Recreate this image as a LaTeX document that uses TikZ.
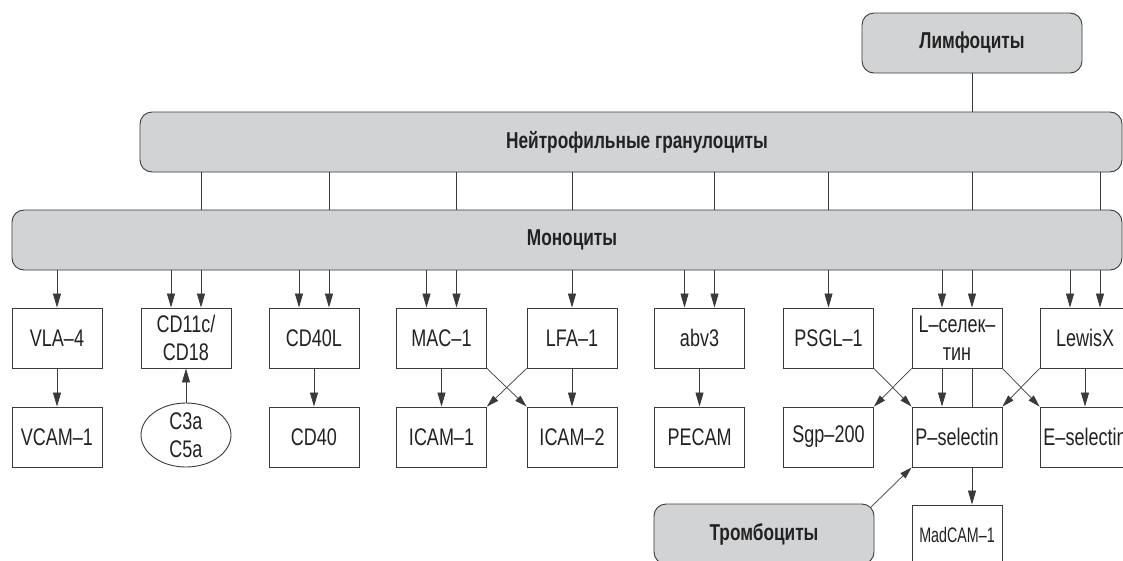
\documentclass[tikz,border=0pt]{standalone}
\usepackage{fontspec}
\setmainfont{Liberation Sans}[FakeStretch=0.75]
\newfontfamily\narrowfont{Liberation Sans}[FakeStretch=0.68]
\usetikzlibrary{arrows.meta,calc,shapes.geometric}
\definecolor{boxgray}{HTML}{D2D3D5}
\definecolor{edge}{HTML}{3A3A3A}
\definecolor{ink}{HTML}{222222}
\begin{document}
\begin{tikzpicture}[x=1pt,y=-1pt,
  cell/.style={draw=edge, line width=0.9pt, minimum width=90pt, minimum height=60pt, inner sep=0pt, align=center, text=ink, font=\fontsize{24}{28}\selectfont},
  group/.style={draw=edge, line width=0.9pt, fill=boxgray, rounded corners=12pt, minimum height=60pt, inner sep=0pt, text=ink, font=\fontsize{23}{27}\selectfont\bfseries},
  arr/.style={draw=edge, line width=0.8pt, -{Triangle[length=14pt,width=8pt]}},
  darr/.style={draw=edge, line width=0.7pt, -{Triangle[length=12pt,width=7pt]}},
  ln/.style={draw=edge, line width=0.8pt}]
\useasboundingbox (0,0) rectangle (1123,560);
\clip (0,0) rectangle (1123,560);
% group bars
\node[group, minimum width=220pt] (lym) at (972,43) {Лимфоциты};
\node[group, minimum width=982pt] (neu) at (631,142) {\hspace*{12pt}Нейтрофильные гранулоциты};
\node[group, minimum width=1110pt] (mono) at (567,240) {\hspace*{10pt}Моноциты};
\node[group, minimum width=220pt] (thr) at (764,534) {Тромбоциты};
% row 1
\node[cell] (vla)   at (57,338)    {VLA–4};
\node[cell] (cd11)  at (186,338)   {CD11c/\\CD18};
\node[cell] (cd40l) at (314,338)   {CD40L};
\node[cell] (mac)   at (441.5,338) {MAC–1};
\node[cell] (lfa)   at (572,338)   {LFA–1};
\node[cell] (abv)   at (699.5,338) {abv3};
\node[cell] (psgl)  at (828.5,338) {PSGL–1};
\node[cell] (lsel)  at (957,338)   {L–селек–\\тин};
\node[cell] (lewis) at (1085,338)  {LewisX};
% row 2
\node[cell] (vcam)  at (57,437)    {VCAM–1};
\node[cell, ellipse, minimum height=64pt] (c3) at (186,435) {C3a\\C5a};
\node[cell] (cd40)  at (314,437)   {CD40};
\node[cell] (icam1) at (441.5,437) {ICAM–1};
\node[cell] (icam2) at (572,437)   {ICAM–2};
\node[cell] (pecam) at (699.5,437) {PECAM};
\node[cell] (sgp)   at (828.5,437) {Sgp–200};
\node[cell] (psel)  at (957,437)   {P–selectin};
\node[cell] (esel)  at (1085,437)  {E–selectin};
\node[cell, font=\fontsize{21}{25}\narrowfont] (madcam) at (957,535) {MadCAM–1};
% vertical links between bars
\draw[ln] (lym.south) -- (neu.north -| lym.south);
\foreach \n/\dx in {cd11/15, cd40l/15, mac/15, lfa/0, abv/15, psgl/0, lsel/15, lewis/15}
  \draw[ln] ([xshift=\dx pt]\n.north |- neu.south) -- ([xshift=\dx pt]\n.north |- mono.north);
% arrows from monocytes
\foreach \n/\dx in {vla/0, cd11/-15, cd11/15, cd40l/-15, cd40l/15, mac/-15, mac/15, lfa/0, abv/-15, abv/15, psgl/0, lsel/-15, lsel/15, lewis/-15, lewis/15}
  \draw[arr] ([xshift=\dx pt]\n.north |- mono.south) -- ([xshift=\dx pt]\n.north);
% row links
\draw[arr] (vla) -- (vcam);
\draw[arr] (c3) -- (cd11);
\draw[arr] (cd40l) -- (cd40);
\draw[arr] (mac) -- (icam1);
\draw[darr] (mac.south east) -- (icam2.north west);
\draw[darr] (lfa.south west) -- (icam1.north east);
\draw[arr] (lfa) -- (icam2);
\draw[arr] (abv) -- (pecam);
\draw[darr] (psgl.south east) -- (psel.north west);
\draw[darr] (lsel.south west) -- (sgp.north east);
\draw[arr] ([xshift=-15pt]lsel.south) -- ([xshift=-15pt]psel.north);
\draw[ln] ([xshift=15pt]lsel.south) -- ([xshift=15pt]psel.north);
\draw[darr] (lsel.south east) -- (esel.north west);
\draw[darr] (lewis.south west) -- (psel.north east);
\draw[arr] (lewis) -- (esel);
\draw[arr] ([xshift=15pt]psel.south) -- ([xshift=15pt]madcam.north);
\draw[darr] ($(thr.north east)+(-4,4)$) -- (psel.south west);
\end{tikzpicture}
\end{document}
